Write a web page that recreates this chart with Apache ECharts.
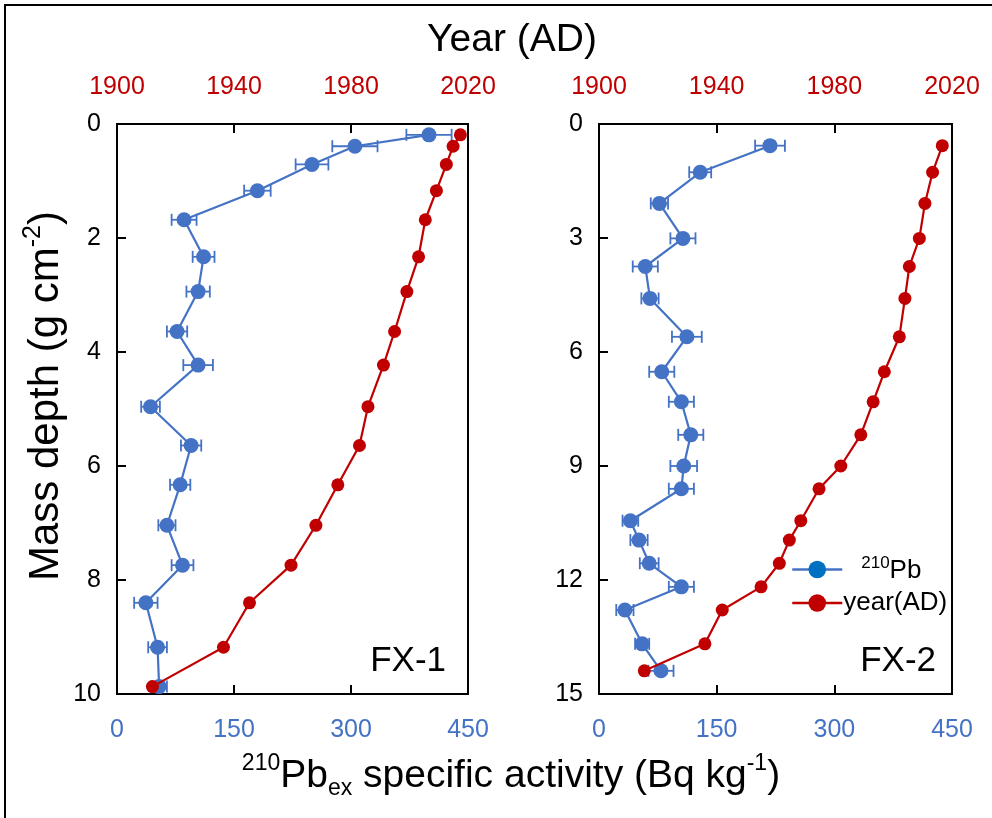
<!DOCTYPE html>
<html><head><meta charset="utf-8">
<script src="https://cdn.jsdelivr.net/npm/echarts@6/dist/echarts.min.js"></script>
<style>html,body{margin:0;padding:0;background:#fff}#c{width:992px;height:818px}</style>
</head><body><div id="c"></div>
<script>
// ---- FX-1 ----
const depth1 = [0.19, 0.39, 0.71, 1.17, 1.68, 2.33, 2.94, 3.64, 4.23, 4.96, 5.64, 6.33, 7.04, 7.74, 8.40, 9.18, 9.87];
const pb1    = [400, 305, 250, 180, 86, 111, 104, 77, 104, 43, 95, 81, 64, 84, 37, 52, 54];
const err1   = [29, 29, 21, 17, 16, 14, 15, 13, 19, 12, 13, 13, 11, 14, 15, 12, 10];
const year1  = [2017.4, 2014.9, 2012.6, 2009.2, 2005.4, 2003.1, 1999.1, 1994.9, 1991.1, 1985.8, 1982.9, 1975.5, 1968.0, 1959.5, 1945.3, 1936.4, 1912.1];
// ---- FX-2 ----
const depth2 = [0.57, 1.27, 2.09, 3.01, 3.75, 4.59, 5.60, 6.52, 7.31, 8.18, 9.0, 9.6, 10.44, 10.95, 11.56, 12.18, 12.79, 13.68, 14.39];
const pb2    = [218, 129, 77, 107, 59, 65, 112, 80, 105, 117, 108, 105, 40, 51, 64, 105, 33, 55, 79];
const err2   = [19, 14, 11, 16, 16, 11, 19, 16, 16, 16, 17, 16, 10, 11, 12, 16, 11, 9, 16];
const year2  = [2016.7, 2013.4, 2010.8, 2008.9, 2005.5, 2004.0, 2002.1, 1997.0, 1993.2, 1989.0, 1982.2, 1974.8, 1968.6, 1964.7, 1961.3, 1955.1, 1941.9, 1936.0, 1915.4];
// ---- axes ----
const pbTicks = [0, 150, 300, 450];
const yearTicks = [1900, 1940, 1980, 2020];
const depthMax1 = 10, depthStep1 = 2;
const depthMax2 = 15, depthStep2 = 3;
const panelNames = ['FX-1', 'FX-2'];

const FONT = '"Liberation Sans", Arial, sans-serif';
const BLUE = '#4472C4', RED = '#C00000';

function errBar(color) {
  return function (params, api) {
    const v = api.value(0), d = api.value(1), e = api.value(2);
    const a = api.coord([v - e, d]), b = api.coord([v + e, d]);
    const h = 6, st = { stroke: color, lineWidth: 1.8 };
    return { type: 'group', children: [
      { type: 'line', shape: { x1: a[0], y1: a[1], x2: b[0], y2: b[1] }, style: st },
      { type: 'line', shape: { x1: a[0], y1: a[1] - h, x2: a[0], y2: a[1] + h }, style: st },
      { type: 'line', shape: { x1: b[0], y1: b[1] - h, x2: b[0], y2: b[1] + h }, style: st }
    ]};
  };
}
const lineAx = { show: true, onZero: false, lineStyle: { color: '#000', width: 2 } };
const tickAx = { show: true, inside: true, length: 9, lineStyle: { color: '#000', width: 2 } };
function pbAxis(g) {
  return { type: 'value', gridIndex: g, position: 'bottom', min: pbTicks[0], max: pbTicks[pbTicks.length - 1],
    interval: pbTicks[1] - pbTicks[0], axisLine: lineAx, axisTick: tickAx, splitLine: { show: false },
    axisLabel: { color: BLUE, fontSize: 25, fontFamily: FONT, margin: 24, formatter: v => String(v) } };
}
function yearAxis(g) {
  return { type: 'value', gridIndex: g, position: 'top', min: yearTicks[0], max: yearTicks[yearTicks.length - 1],
    interval: yearTicks[1] - yearTicks[0], axisLine: lineAx, axisTick: tickAx, splitLine: { show: false },
    axisLabel: { color: RED, fontSize: 25, fontFamily: FONT, margin: 24, formatter: v => String(v) } };
}
function depthAxis(g, max, step) {
  return { type: 'value', gridIndex: g, inverse: true, min: 0, max: max, interval: step,
    axisLine: lineAx, axisTick: tickAx, splitLine: { show: false },
    axisLabel: { color: '#000', fontSize: 25, fontFamily: FONT, margin: 16 } };
}
function pair(xs, ds) { return xs.map((v, i) => [v, ds[i]]); }
function trip(xs, ds, es) { return xs.map((v, i) => [v, ds[i], es[i]]); }

function panelSeries(xi, yi, pb, dep, err, yr) {
  return [
    { type: 'custom', xAxisIndex: xi, yAxisIndex: yi, data: trip(pb, dep, err), encode: { x: 0, y: 1 },
      renderItem: errBar(BLUE), z: 1, silent: true },
    { type: 'line', name: '210Pb', xAxisIndex: xi, yAxisIndex: yi, data: pair(pb, dep), symbol: 'circle',
      symbolSize: 15, color: BLUE, lineStyle: { color: BLUE, width: 2.2 }, itemStyle: { color: BLUE }, z: 2 },
    { type: 'line', name: 'year(AD)', xAxisIndex: xi + 1, yAxisIndex: yi, data: pair(yr, dep), symbol: 'circle',
      symbolSize: 13, color: RED, lineStyle: { color: RED, width: 2.2 }, itemStyle: { color: RED }, z: 3 }
  ];
}

const chart = echarts.init(document.getElementById('c'));
chart.setOption({
  animation: false,
  backgroundColor: '#fff',
  grid: [
    { left: 117, top: 124, width: 351, height: 570, show: true, borderColor: '#000', borderWidth: 2, backgroundColor: 'transparent' },
    { left: 599, top: 124, width: 353, height: 570, show: true, borderColor: '#000', borderWidth: 2, backgroundColor: 'transparent' }
  ],
  xAxis: [pbAxis(0), yearAxis(0), pbAxis(1), yearAxis(1)],
  yAxis: [depthAxis(0, depthMax1, depthStep1), depthAxis(1, depthMax2, depthStep2)],
  legend: {
    orient: 'vertical', left: 786, top: 550, itemWidth: 50, itemHeight: 22, itemGap: 6,
    lineStyle: { width: 2.5 },
    data: [{ name: '210Pb', itemStyle: { color: '#0070C0' }, lineStyle: { color: BLUE, width: 2.5 } },
           { name: 'year(AD)', lineStyle: { color: RED, width: 2.5 } }],
    textStyle: { fontSize: 26, fontFamily: FONT, color: '#000', padding: [0, 0, 0, -4],
      rich: { sp: { fontSize: 26, width: 18, lineHeight: 29 }, sup: { fontSize: 17, fontFamily: FONT, verticalAlign: 'top', lineHeight: 17 },
              b: { fontSize: 26, fontFamily: FONT, lineHeight: 29, verticalAlign: 'bottom' } } },
    formatter: n => n === '210Pb' ? '{sp|}{sup|210}{b|Pb}' : n
  },
  graphic: [
    { type: 'polyline', shape: { points: [[5, 818], [5, 5], [992, 5]] }, style: { stroke: '#000', lineWidth: 2, fill: null } },
    { type: 'text', x: 512, y: 40, style: { text: 'Year (AD)', font: '39px ' + FONT, fill: '#000', align: 'center', verticalAlign: 'middle' } },
    { type: 'text', x: 511, y: 776, style: {
        text: '{sup|210}{n|Pb}{sub|ex}{n| specific activity (Bq kg}{sup|-1}{n|)}', align: 'center', verticalAlign: 'middle', fill: '#000',
        rich: { n: { fontSize: 39, fontFamily: FONT, lineHeight: 48, verticalAlign: 'middle' },
                sup: { fontSize: 23, fontFamily: FONT, lineHeight: 23, verticalAlign: 'top' },
                sub: { fontSize: 23, fontFamily: FONT, lineHeight: 23, verticalAlign: 'bottom' } } } },
    { type: 'text', x: 46, y: 396, rotation: Math.PI / 2, style: {
        text: '{n|Mass depth (g cm}{sup|-2}{n|)}', align: 'center', verticalAlign: 'middle', fill: '#000',
        rich: { n: { fontSize: 42, fontFamily: FONT, lineHeight: 50, verticalAlign: 'middle' },
                sup: { fontSize: 25, fontFamily: FONT, lineHeight: 25, verticalAlign: 'top' } } } },
    { type: 'text', x: 446, y: 661, style: { text: panelNames[0], font: '35px ' + FONT, fill: '#000', align: 'right', verticalAlign: 'middle' } },
    { type: 'text', x: 936, y: 661, style: { text: panelNames[1], font: '35px ' + FONT, fill: '#000', align: 'right', verticalAlign: 'middle' } }
  ],
  series: [].concat(
    panelSeries(0, 0, pb1, depth1, err1, year1),
    panelSeries(2, 1, pb2, depth2, err2, year2)
  )
});
</script></body></html>
